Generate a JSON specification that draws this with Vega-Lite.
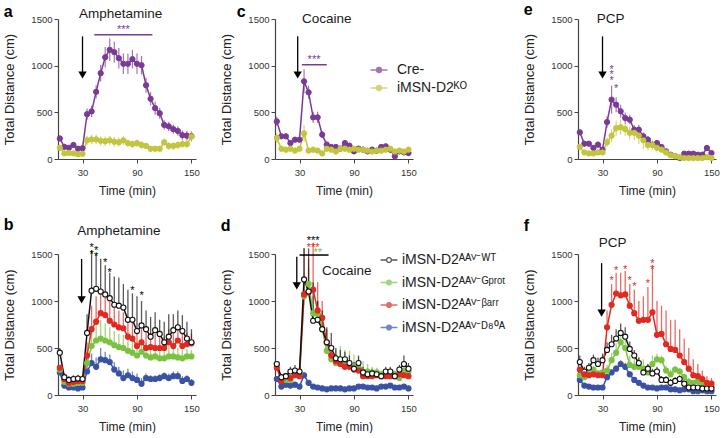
{
"$schema":"https://vega.github.io/schema/vega-lite/v6.json",
"padding":{"left":3,"top":2,"right":0,"bottom":0},
"config":{"font":"Liberation Sans","view":{"stroke":null},
"axis":{"grid":false,"domainColor":"#444","tickColor":"#444","labelColor":"#333","labelFontSize":9.5,"labelFont":"Liberation Sans","titleFont":"Liberation Sans","titleFontWeight":"normal","titleColor":"#222","tickSize":4,"labelPadding":2,"domainWidth":1.2},
"axisX":{"titleFontSize":12,"labelPadding":4,"titlePadding":9},
"axisY":{"titleFontSize":13,"titlePadding":14},
"title":{"fontSize":16,"fontWeight":"bold","anchor":"start","frame":"bounds","color":"#000","baseline":"alphabetic","font":"Liberation Sans"},
"legend":{"labelFontSize":14,"labelColor":"#222","labelFont":"Liberation Sans","padding":0}},
"datasets":{
"a":[{"t":5,"g":"Cre-","m":220,"e":30},{"t":10,"g":"Cre-","m":130,"e":25},{"t":15,"g":"Cre-","m":120,"e":25},{"t":20,"g":"Cre-","m":150,"e":25},{"t":25,"g":"Cre-","m":110,"e":25},{"t":30,"g":"Cre-","m":115,"e":25},{"t":35,"g":"Cre-","m":480,"e":60},{"t":40,"g":"Cre-","m":510,"e":60},{"t":45,"g":"Cre-","m":720,"e":70},{"t":50,"g":"Cre-","m":920,"e":90},{"t":55,"g":"Cre-","m":1090,"e":110},{"t":60,"g":"Cre-","m":1170,"e":120},{"t":65,"g":"Cre-","m":1145,"e":110},{"t":70,"g":"Cre-","m":1080,"e":110},{"t":75,"g":"Cre-","m":1020,"e":110},{"t":80,"g":"Cre-","m":1020,"e":110},{"t":85,"g":"Cre-","m":1070,"e":100},{"t":90,"g":"Cre-","m":1020,"e":110},{"t":95,"g":"Cre-","m":1005,"e":100},{"t":100,"g":"Cre-","m":790,"e":80},{"t":105,"g":"Cre-","m":645,"e":70},{"t":110,"g":"Cre-","m":545,"e":70},{"t":115,"g":"Cre-","m":490,"e":60},{"t":120,"g":"Cre-","m":365,"e":50},{"t":125,"g":"Cre-","m":350,"e":50},{"t":130,"g":"Cre-","m":320,"e":50},{"t":135,"g":"Cre-","m":300,"e":50},{"t":140,"g":"Cre-","m":255,"e":50},{"t":145,"g":"Cre-","m":250,"e":50},{"t":150,"g":"Cre-","m":245,"e":50},
{"t":5,"g":"KO","m":120,"e":30},{"t":10,"g":"KO","m":60,"e":20},{"t":15,"g":"KO","m":65,"e":20},{"t":20,"g":"KO","m":60,"e":20},{"t":25,"g":"KO","m":50,"e":20},{"t":30,"g":"KO","m":55,"e":20},{"t":35,"g":"KO","m":200,"e":50},{"t":40,"g":"KO","m":210,"e":50},{"t":45,"g":"KO","m":210,"e":50},{"t":50,"g":"KO","m":195,"e":50},{"t":55,"g":"KO","m":190,"e":50},{"t":60,"g":"KO","m":200,"e":50},{"t":65,"g":"KO","m":185,"e":50},{"t":70,"g":"KO","m":180,"e":50},{"t":75,"g":"KO","m":200,"e":50},{"t":80,"g":"KO","m":170,"e":40},{"t":85,"g":"KO","m":160,"e":40},{"t":90,"g":"KO","m":170,"e":40},{"t":95,"g":"KO","m":150,"e":40},{"t":100,"g":"KO","m":140,"e":30},{"t":105,"g":"KO","m":110,"e":30},{"t":110,"g":"KO","m":110,"e":30},{"t":115,"g":"KO","m":110,"e":30},{"t":120,"g":"KO","m":180,"e":40},{"t":125,"g":"KO","m":140,"e":40},{"t":130,"g":"KO","m":140,"e":40},{"t":135,"g":"KO","m":150,"e":40},{"t":140,"g":"KO","m":160,"e":40},{"t":145,"g":"KO","m":160,"e":40},{"t":150,"g":"KO","m":240,"e":60}],
"c":[{"t":5,"g":"Cre-","m":403,"e":50},{"t":10,"g":"Cre-","m":243,"e":30},{"t":15,"g":"Cre-","m":243,"e":30},{"t":20,"g":"Cre-","m":171,"e":30},{"t":25,"g":"Cre-","m":207,"e":30},{"t":30,"g":"Cre-","m":207,"e":30},{"t":35,"g":"Cre-","m":832,"e":130},{"t":40,"g":"Cre-","m":714,"e":70},{"t":45,"g":"Cre-","m":446,"e":60},{"t":50,"g":"Cre-","m":446,"e":60},{"t":55,"g":"Cre-","m":261,"e":40},{"t":60,"g":"Cre-","m":154,"e":30},{"t":65,"g":"Cre-","m":129,"e":30},{"t":70,"g":"Cre-","m":129,"e":30},{"t":75,"g":"Cre-","m":111,"e":30},{"t":80,"g":"Cre-","m":171,"e":30},{"t":85,"g":"Cre-","m":143,"e":30},{"t":90,"g":"Cre-","m":82,"e":30},{"t":95,"g":"Cre-","m":111,"e":30},{"t":100,"g":"Cre-","m":100,"e":30},{"t":105,"g":"Cre-","m":82,"e":30},{"t":110,"g":"Cre-","m":100,"e":30},{"t":115,"g":"Cre-","m":89,"e":30},{"t":120,"g":"Cre-","m":129,"e":30},{"t":125,"g":"Cre-","m":136,"e":30},{"t":130,"g":"Cre-","m":100,"e":30},{"t":135,"g":"Cre-","m":29,"e":40},{"t":140,"g":"Cre-","m":82,"e":30},{"t":145,"g":"Cre-","m":71,"e":30},{"t":150,"g":"Cre-","m":64,"e":30},
{"t":5,"g":"KO","m":225,"e":50},{"t":10,"g":"KO","m":110,"e":30},{"t":15,"g":"KO","m":100,"e":30},{"t":20,"g":"KO","m":110,"e":30},{"t":25,"g":"KO","m":90,"e":30},{"t":30,"g":"KO","m":110,"e":30},{"t":35,"g":"KO","m":275,"e":90},{"t":40,"g":"KO","m":90,"e":30},{"t":45,"g":"KO","m":100,"e":30},{"t":50,"g":"KO","m":90,"e":30},{"t":55,"g":"KO","m":60,"e":30},{"t":60,"g":"KO","m":110,"e":30},{"t":65,"g":"KO","m":100,"e":30},{"t":70,"g":"KO","m":80,"e":30},{"t":75,"g":"KO","m":110,"e":30},{"t":80,"g":"KO","m":110,"e":30},{"t":85,"g":"KO","m":100,"e":30},{"t":90,"g":"KO","m":110,"e":30},{"t":95,"g":"KO","m":100,"e":30},{"t":100,"g":"KO","m":100,"e":30},{"t":105,"g":"KO","m":90,"e":30},{"t":110,"g":"KO","m":80,"e":30},{"t":115,"g":"KO","m":90,"e":30},{"t":120,"g":"KO","m":90,"e":30},{"t":125,"g":"KO","m":100,"e":30},{"t":130,"g":"KO","m":110,"e":30},{"t":135,"g":"KO","m":80,"e":30},{"t":140,"g":"KO","m":90,"e":30},{"t":145,"g":"KO","m":80,"e":30},{"t":150,"g":"KO","m":100,"e":30}],
"e":[{"t":5,"g":"Cre-","m":286,"e":30},{"t":10,"g":"Cre-","m":164,"e":30},{"t":15,"g":"Cre-","m":164,"e":30},{"t":20,"g":"Cre-","m":118,"e":30},{"t":25,"g":"Cre-","m":154,"e":30},{"t":30,"g":"Cre-","m":100,"e":30},{"t":35,"g":"Cre-","m":396,"e":60},{"t":40,"g":"Cre-","m":636,"e":150},{"t":45,"g":"Cre-","m":582,"e":80},{"t":50,"g":"Cre-","m":511,"e":70},{"t":55,"g":"Cre-","m":439,"e":60},{"t":60,"g":"Cre-","m":421,"e":50},{"t":65,"g":"Cre-","m":314,"e":50},{"t":70,"g":"Cre-","m":314,"e":50},{"t":75,"g":"Cre-","m":243,"e":40},{"t":80,"g":"Cre-","m":207,"e":40},{"t":85,"g":"Cre-","m":154,"e":30},{"t":90,"g":"Cre-","m":171,"e":30},{"t":95,"g":"Cre-","m":129,"e":30},{"t":100,"g":"Cre-","m":82,"e":20},{"t":105,"g":"Cre-","m":46,"e":20},{"t":110,"g":"Cre-","m":29,"e":20},{"t":115,"g":"Cre-","m":11,"e":20},{"t":120,"g":"Cre-","m":57,"e":20},{"t":125,"g":"Cre-","m":57,"e":20},{"t":130,"g":"Cre-","m":57,"e":20},{"t":135,"g":"Cre-","m":46,"e":20},{"t":140,"g":"Cre-","m":46,"e":20},{"t":145,"g":"Cre-","m":118,"e":30},{"t":150,"g":"Cre-","m":64,"e":20},
{"t":5,"g":"KO","m":130,"e":20},{"t":10,"g":"KO","m":70,"e":15},{"t":15,"g":"KO","m":60,"e":15},{"t":20,"g":"KO","m":60,"e":15},{"t":25,"g":"KO","m":70,"e":15},{"t":30,"g":"KO","m":70,"e":15},{"t":35,"g":"KO","m":180,"e":50},{"t":40,"g":"KO","m":250,"e":70},{"t":45,"g":"KO","m":330,"e":80},{"t":50,"g":"KO","m":340,"e":80},{"t":55,"g":"KO","m":320,"e":70},{"t":60,"g":"KO","m":280,"e":70},{"t":65,"g":"KO","m":280,"e":80},{"t":70,"g":"KO","m":250,"e":90},{"t":75,"g":"KO","m":200,"e":90},{"t":80,"g":"KO","m":150,"e":60},{"t":85,"g":"KO","m":150,"e":50},{"t":90,"g":"KO","m":120,"e":40},{"t":95,"g":"KO","m":100,"e":30},{"t":100,"g":"KO","m":70,"e":20},{"t":105,"g":"KO","m":40,"e":20},{"t":110,"g":"KO","m":30,"e":15},{"t":115,"g":"KO","m":20,"e":15},{"t":120,"g":"KO","m":10,"e":10},{"t":125,"g":"KO","m":10,"e":10},{"t":130,"g":"KO","m":10,"e":10},{"t":135,"g":"KO","m":10,"e":10},{"t":140,"g":"KO","m":10,"e":10},{"t":145,"g":"KO","m":20,"e":10},{"t":150,"g":"KO","m":10,"e":10}],
"b":[{"t":5,"g":"D80A","m":240,"h":260},{"t":10,"g":"D80A","m":100,"h":120},{"t":15,"g":"D80A","m":80,"h":100},{"t":20,"g":"D80A","m":80,"h":100},{"t":25,"g":"D80A","m":70,"h":90},{"t":30,"g":"D80A","m":80,"h":100},{"t":35,"g":"D80A","m":250,"h":330},{"t":40,"g":"D80A","m":340,"h":440},{"t":45,"g":"D80A","m":300,"h":400},{"t":50,"g":"D80A","m":380,"h":500},{"t":55,"g":"D80A","m":370,"h":460},{"t":60,"g":"D80A","m":350,"h":430},{"t":65,"g":"D80A","m":270,"h":350},{"t":70,"g":"D80A","m":230,"h":300},{"t":75,"g":"D80A","m":180,"h":260},{"t":80,"g":"D80A","m":210,"h":280},{"t":85,"g":"D80A","m":180,"h":250},{"t":90,"g":"D80A","m":160,"h":230},{"t":95,"g":"D80A","m":120,"h":180},{"t":100,"g":"D80A","m":180,"h":230},{"t":105,"g":"D80A","m":170,"h":210},{"t":110,"g":"D80A","m":170,"h":210},{"t":115,"g":"D80A","m":180,"h":220},{"t":120,"g":"D80A","m":200,"h":240},{"t":125,"g":"D80A","m":180,"h":230},{"t":130,"g":"D80A","m":200,"h":250},{"t":135,"g":"D80A","m":200,"h":250},{"t":140,"g":"D80A","m":150,"h":200},{"t":145,"g":"D80A","m":170,"h":210},{"t":150,"g":"D80A","m":130,"h":170},
{"t":5,"g":"Gprot","m":270,"h":290},{"t":10,"g":"Gprot","m":140,"h":160},{"t":15,"g":"Gprot","m":120,"h":140},{"t":20,"g":"Gprot","m":120,"h":140},{"t":25,"g":"Gprot","m":130,"h":150},{"t":30,"g":"Gprot","m":130,"h":150},{"t":35,"g":"Gprot","m":340,"h":450},{"t":40,"g":"Gprot","m":520,"h":700},{"t":45,"g":"Gprot","m":580,"h":760},{"t":50,"g":"Gprot","m":600,"h":800},{"t":55,"g":"Gprot","m":580,"h":760},{"t":60,"g":"Gprot","m":560,"h":720},{"t":65,"g":"Gprot","m":530,"h":680},{"t":70,"g":"Gprot","m":510,"h":650},{"t":75,"g":"Gprot","m":500,"h":640},{"t":80,"g":"Gprot","m":470,"h":600},{"t":85,"g":"Gprot","m":450,"h":580},{"t":90,"g":"Gprot","m":420,"h":560},{"t":95,"g":"Gprot","m":460,"h":600},{"t":100,"g":"Gprot","m":420,"h":550},{"t":105,"g":"Gprot","m":400,"h":520},{"t":110,"g":"Gprot","m":410,"h":520},{"t":115,"g":"Gprot","m":390,"h":500},{"t":120,"g":"Gprot","m":390,"h":490},{"t":125,"g":"Gprot","m":410,"h":520},{"t":130,"g":"Gprot","m":410,"h":510},{"t":135,"g":"Gprot","m":400,"h":500},{"t":140,"g":"Gprot","m":390,"h":480},{"t":145,"g":"Gprot","m":410,"h":490},{"t":150,"g":"Gprot","m":410,"h":480},
{"t":5,"g":"barr","m":290,"h":320},{"t":10,"g":"barr","m":170,"h":190},{"t":15,"g":"barr","m":130,"h":150},{"t":20,"g":"barr","m":140,"h":160},{"t":25,"g":"barr","m":150,"h":170},{"t":30,"g":"barr","m":150,"h":170},{"t":35,"g":"barr","m":420,"h":560},{"t":40,"g":"barr","m":700,"h":950},{"t":45,"g":"barr","m":780,"h":1050},{"t":50,"g":"barr","m":870,"h":1100},{"t":55,"g":"barr","m":850,"h":1050},{"t":60,"g":"barr","m":790,"h":1000},{"t":65,"g":"barr","m":750,"h":950},{"t":70,"g":"barr","m":720,"h":900},{"t":75,"g":"barr","m":710,"h":880},{"t":80,"g":"barr","m":620,"h":800},{"t":85,"g":"barr","m":600,"h":780},{"t":90,"g":"barr","m":520,"h":700},{"t":95,"g":"barr","m":560,"h":740},{"t":100,"g":"barr","m":500,"h":680},{"t":105,"g":"barr","m":510,"h":660},{"t":110,"g":"barr","m":500,"h":650},{"t":115,"g":"barr","m":500,"h":640},{"t":120,"g":"barr","m":500,"h":620},{"t":125,"g":"barr","m":560,"h":700},{"t":130,"g":"barr","m":520,"h":680},{"t":135,"g":"barr","m":580,"h":760},{"t":140,"g":"barr","m":520,"h":680},{"t":145,"g":"barr","m":540,"h":660},{"t":150,"g":"barr","m":550,"h":650},
{"t":5,"g":"WT","m":450,"h":500},{"t":10,"g":"WT","m":190,"h":230},{"t":15,"g":"WT","m":160,"h":200},{"t":20,"g":"WT","m":170,"h":210},{"t":25,"g":"WT","m":175,"h":215},{"t":30,"g":"WT","m":170,"h":210},{"t":35,"g":"WT","m":660,"h":860},{"t":40,"g":"WT","m":1110,"h":1540},{"t":45,"g":"WT","m":1130,"h":1500},{"t":50,"g":"WT","m":1100,"h":1450},{"t":55,"g":"WT","m":1070,"h":1380},{"t":60,"g":"WT","m":1030,"h":1300},{"t":65,"g":"WT","m":960,"h":1260},{"t":70,"g":"WT","m":950,"h":1250},{"t":75,"g":"WT","m":930,"h":1180},{"t":80,"g":"WT","m":800,"h":1120},{"t":85,"g":"WT","m":800,"h":1080},{"t":90,"g":"WT","m":680,"h":1050},{"t":95,"g":"WT","m":740,"h":1000},{"t":100,"g":"WT","m":700,"h":900},{"t":105,"g":"WT","m":620,"h":830},{"t":110,"g":"WT","m":690,"h":880},{"t":115,"g":"WT","m":650,"h":800},{"t":120,"g":"WT","m":560,"h":780},{"t":125,"g":"WT","m":620,"h":860},{"t":130,"g":"WT","m":690,"h":860},{"t":135,"g":"WT","m":720,"h":900},{"t":140,"g":"WT","m":680,"h":850},{"t":145,"g":"WT","m":600,"h":780},{"t":150,"g":"WT","m":560,"h":700}],
"d":[{"t":5,"g":"D80A","m":170,"h":190},{"t":10,"g":"D80A","m":90,"h":110},{"t":15,"g":"D80A","m":110,"h":130},{"t":20,"g":"D80A","m":100,"h":120},{"t":25,"g":"D80A","m":110,"h":130},{"t":30,"g":"D80A","m":90,"h":110},{"t":35,"g":"D80A","m":210,"h":240},{"t":40,"g":"D80A","m":130,"h":150},{"t":45,"g":"D80A","m":90,"h":110},{"t":50,"g":"D80A","m":80,"h":95},{"t":55,"g":"D80A","m":70,"h":85},{"t":60,"g":"D80A","m":60,"h":75},{"t":65,"g":"D80A","m":70,"h":85},{"t":70,"g":"D80A","m":70,"h":85},{"t":75,"g":"D80A","m":70,"h":85},{"t":80,"g":"D80A","m":60,"h":75},{"t":85,"g":"D80A","m":70,"h":85},{"t":90,"g":"D80A","m":70,"h":85},{"t":95,"g":"D80A","m":90,"h":105},{"t":100,"g":"D80A","m":90,"h":105},{"t":105,"g":"D80A","m":80,"h":95},{"t":110,"g":"D80A","m":80,"h":95},{"t":115,"g":"D80A","m":70,"h":85},{"t":120,"g":"D80A","m":90,"h":105},{"t":125,"g":"D80A","m":90,"h":105},{"t":130,"g":"D80A","m":100,"h":115},{"t":135,"g":"D80A","m":80,"h":95},{"t":140,"g":"D80A","m":80,"h":95},{"t":145,"g":"D80A","m":90,"h":105},{"t":150,"g":"D80A","m":70,"h":85},
{"t":5,"g":"Gprot","m":330,"h":350},{"t":10,"g":"Gprot","m":180,"h":200},{"t":15,"g":"Gprot","m":160,"h":180},{"t":20,"g":"Gprot","m":160,"h":190},{"t":25,"g":"Gprot","m":240,"h":270},{"t":30,"g":"Gprot","m":220,"h":250},{"t":35,"g":"Gprot","m":1050,"h":1300},{"t":40,"g":"Gprot","m":1180,"h":1350},{"t":45,"g":"Gprot","m":870,"h":1050},{"t":50,"g":"Gprot","m":860,"h":1000},{"t":55,"g":"Gprot","m":700,"h":850},{"t":60,"g":"Gprot","m":470,"h":600},{"t":65,"g":"Gprot","m":380,"h":550},{"t":70,"g":"Gprot","m":340,"h":480},{"t":75,"g":"Gprot","m":360,"h":520},{"t":80,"g":"Gprot","m":330,"h":480},{"t":85,"g":"Gprot","m":320,"h":470},{"t":90,"g":"Gprot","m":300,"h":430},{"t":95,"g":"Gprot","m":280,"h":400},{"t":100,"g":"Gprot","m":250,"h":360},{"t":105,"g":"Gprot","m":250,"h":330},{"t":110,"g":"Gprot","m":240,"h":300},{"t":115,"g":"Gprot","m":240,"h":290},{"t":120,"g":"Gprot","m":220,"h":260},{"t":125,"g":"Gprot","m":220,"h":260},{"t":130,"g":"Gprot","m":230,"h":270},{"t":135,"g":"Gprot","m":220,"h":260},{"t":140,"g":"Gprot","m":180,"h":220},{"t":145,"g":"Gprot","m":260,"h":300},{"t":150,"g":"Gprot","m":250,"h":290},
{"t":5,"g":"barr","m":290,"h":310},{"t":10,"g":"barr","m":150,"h":170},{"t":15,"g":"barr","m":200,"h":220},{"t":20,"g":"barr","m":180,"h":200},{"t":25,"g":"barr","m":210,"h":230},{"t":30,"g":"barr","m":200,"h":230},{"t":35,"g":"barr","m":1070,"h":1560},{"t":40,"g":"barr","m":1090,"h":1450},{"t":45,"g":"barr","m":1120,"h":1620},{"t":50,"g":"barr","m":900,"h":1200},{"t":55,"g":"barr","m":820,"h":1000},{"t":60,"g":"barr","m":560,"h":700},{"t":65,"g":"barr","m":420,"h":520},{"t":70,"g":"barr","m":360,"h":430},{"t":75,"g":"barr","m":330,"h":400},{"t":80,"g":"barr","m":300,"h":360},{"t":85,"g":"barr","m":300,"h":360},{"t":90,"g":"barr","m":270,"h":320},{"t":95,"g":"barr","m":260,"h":310},{"t":100,"g":"barr","m":200,"h":240},{"t":105,"g":"barr","m":200,"h":240},{"t":110,"g":"barr","m":200,"h":240},{"t":115,"g":"barr","m":210,"h":250},{"t":120,"g":"barr","m":200,"h":240},{"t":125,"g":"barr","m":200,"h":240},{"t":130,"g":"barr","m":200,"h":240},{"t":135,"g":"barr","m":200,"h":240},{"t":140,"g":"barr","m":220,"h":260},{"t":145,"g":"barr","m":210,"h":250},{"t":150,"g":"barr","m":200,"h":240},
{"t":5,"g":"WT","m":330,"h":360},{"t":10,"g":"WT","m":190,"h":220},{"t":15,"g":"WT","m":200,"h":230},{"t":20,"g":"WT","m":250,"h":300},{"t":25,"g":"WT","m":260,"h":320},{"t":30,"g":"WT","m":250,"h":300},{"t":35,"g":"WT","m":1230,"h":1560},{"t":40,"g":"WT","m":1100,"h":1560},{"t":45,"g":"WT","m":790,"h":1200},{"t":50,"g":"WT","m":800,"h":1000},{"t":55,"g":"WT","m":700,"h":900},{"t":60,"g":"WT","m":560,"h":720},{"t":65,"g":"WT","m":500,"h":660},{"t":70,"g":"WT","m":390,"h":500},{"t":75,"g":"WT","m":380,"h":480},{"t":80,"g":"WT","m":380,"h":460},{"t":85,"g":"WT","m":340,"h":420},{"t":90,"g":"WT","m":280,"h":350},{"t":95,"g":"WT","m":340,"h":420},{"t":100,"g":"WT","m":240,"h":300},{"t":105,"g":"WT","m":220,"h":280},{"t":110,"g":"WT","m":230,"h":280},{"t":115,"g":"WT","m":220,"h":260},{"t":120,"g":"WT","m":200,"h":240},{"t":125,"g":"WT","m":250,"h":300},{"t":130,"g":"WT","m":250,"h":300},{"t":135,"g":"WT","m":200,"h":250},{"t":140,"g":"WT","m":270,"h":320},{"t":145,"g":"WT","m":330,"h":420},{"t":150,"g":"WT","m":280,"h":340}],
"f":[{"t":5,"g":"D80A","m":160,"h":180},{"t":10,"g":"D80A","m":100,"h":120},{"t":15,"g":"D80A","m":90,"h":110},{"t":20,"g":"D80A","m":80,"h":100},{"t":25,"g":"D80A","m":80,"h":100},{"t":30,"g":"D80A","m":80,"h":100},{"t":35,"g":"D80A","m":190,"h":220},{"t":40,"g":"D80A","m":240,"h":270},{"t":45,"g":"D80A","m":280,"h":320},{"t":50,"g":"D80A","m":330,"h":370},{"t":55,"g":"D80A","m":300,"h":340},{"t":60,"g":"D80A","m":220,"h":250},{"t":65,"g":"D80A","m":160,"h":190},{"t":70,"g":"D80A","m":130,"h":160},{"t":75,"g":"D80A","m":100,"h":120},{"t":80,"g":"D80A","m":80,"h":100},{"t":85,"g":"D80A","m":80,"h":100},{"t":90,"g":"D80A","m":70,"h":90},{"t":95,"g":"D80A","m":80,"h":100},{"t":100,"g":"D80A","m":80,"h":100},{"t":105,"g":"D80A","m":60,"h":80},{"t":110,"g":"D80A","m":60,"h":80},{"t":115,"g":"D80A","m":50,"h":70},{"t":120,"g":"D80A","m":60,"h":80},{"t":125,"g":"D80A","m":60,"h":80},{"t":130,"g":"D80A","m":40,"h":60},{"t":135,"g":"D80A","m":40,"h":60},{"t":140,"g":"D80A","m":50,"h":70},{"t":145,"g":"D80A","m":40,"h":60},{"t":150,"g":"D80A","m":40,"h":60},
{"t":5,"g":"Gprot","m":210,"h":240},{"t":10,"g":"Gprot","m":190,"h":220},{"t":15,"g":"Gprot","m":220,"h":250},{"t":20,"g":"Gprot","m":270,"h":300},{"t":25,"g":"Gprot","m":230,"h":260},{"t":30,"g":"Gprot","m":240,"h":270},{"t":35,"g":"Gprot","m":260,"h":320},{"t":40,"g":"Gprot","m":370,"h":450},{"t":45,"g":"Gprot","m":450,"h":550},{"t":50,"g":"Gprot","m":560,"h":650},{"t":55,"g":"Gprot","m":500,"h":600},{"t":60,"g":"Gprot","m":320,"h":420},{"t":65,"g":"Gprot","m":300,"h":400},{"t":70,"g":"Gprot","m":300,"h":400},{"t":75,"g":"Gprot","m":280,"h":380},{"t":80,"g":"Gprot","m":240,"h":330},{"t":85,"g":"Gprot","m":330,"h":420},{"t":90,"g":"Gprot","m":380,"h":440},{"t":95,"g":"Gprot","m":370,"h":420},{"t":100,"g":"Gprot","m":260,"h":310},{"t":105,"g":"Gprot","m":220,"h":270},{"t":110,"g":"Gprot","m":270,"h":310},{"t":115,"g":"Gprot","m":250,"h":290},{"t":120,"g":"Gprot","m":190,"h":230},{"t":125,"g":"Gprot","m":140,"h":180},{"t":130,"g":"Gprot","m":130,"h":160},{"t":135,"g":"Gprot","m":150,"h":180},{"t":140,"g":"Gprot","m":120,"h":150},{"t":145,"g":"Gprot","m":100,"h":130},{"t":150,"g":"Gprot","m":90,"h":120},
{"t":5,"g":"WT","m":350,"h":420},{"t":10,"g":"WT","m":250,"h":300},{"t":15,"g":"WT","m":290,"h":340},{"t":20,"g":"WT","m":370,"h":430},{"t":25,"g":"WT","m":330,"h":400},{"t":30,"g":"WT","m":370,"h":440},{"t":35,"g":"WT","m":480,"h":560},{"t":40,"g":"WT","m":540,"h":640},{"t":45,"g":"WT","m":600,"h":700},{"t":50,"g":"WT","m":660,"h":760},{"t":55,"g":"WT","m":620,"h":720},{"t":60,"g":"WT","m":490,"h":570},{"t":65,"g":"WT","m":420,"h":480},{"t":70,"g":"WT","m":340,"h":400},{"t":75,"g":"WT","m":240,"h":300},{"t":80,"g":"WT","m":280,"h":330},{"t":85,"g":"WT","m":230,"h":280},{"t":90,"g":"WT","m":250,"h":300},{"t":95,"g":"WT","m":160,"h":200},{"t":100,"g":"WT","m":160,"h":200},{"t":105,"g":"WT","m":130,"h":170},{"t":110,"g":"WT","m":150,"h":190},{"t":115,"g":"WT","m":170,"h":210},{"t":120,"g":"WT","m":120,"h":150},{"t":125,"g":"WT","m":80,"h":110},{"t":130,"g":"WT","m":80,"h":110},{"t":135,"g":"WT","m":80,"h":100},{"t":140,"g":"WT","m":70,"h":90},{"t":145,"g":"WT","m":70,"h":90},{"t":150,"g":"WT","m":70,"h":90},
{"t":5,"g":"barr","m":270,"h":300},{"t":10,"g":"barr","m":220,"h":250},{"t":15,"g":"barr","m":210,"h":240},{"t":20,"g":"barr","m":220,"h":250},{"t":25,"g":"barr","m":210,"h":240},{"t":30,"g":"barr","m":210,"h":240},{"t":35,"g":"barr","m":720,"h":900},{"t":40,"g":"barr","m":960,"h":1180},{"t":45,"g":"barr","m":1080,"h":1300},{"t":50,"g":"barr","m":1060,"h":1300},{"t":55,"g":"barr","m":1070,"h":1320},{"t":60,"g":"barr","m":950,"h":1180},{"t":65,"g":"barr","m":870,"h":1120},{"t":70,"g":"barr","m":790,"h":1000},{"t":75,"g":"barr","m":800,"h":1050},{"t":80,"g":"barr","m":800,"h":1150},{"t":85,"g":"barr","m":880,"h":1380},{"t":90,"g":"barr","m":640,"h":1000},{"t":95,"g":"barr","m":650,"h":950},{"t":100,"g":"barr","m":540,"h":900},{"t":105,"g":"barr","m":490,"h":800},{"t":110,"g":"barr","m":480,"h":800},{"t":115,"g":"barr","m":420,"h":700},{"t":120,"g":"barr","m":350,"h":600},{"t":125,"g":"barr","m":280,"h":500},{"t":130,"g":"barr","m":210,"h":380},{"t":135,"g":"barr","m":200,"h":330},{"t":140,"g":"barr","m":170,"h":260},{"t":145,"g":"barr","m":130,"h":200},{"t":150,"g":"barr","m":120,"h":180}],
"bs":[{"t":40,"y":1595},{"t":40,"y":1520},{"t":45,"y":1560},{"t":45,"y":1495},{"t":55,"y":1440},{"t":60,"y":1335},{"t":85,"y":1135},{"t":95,"y":1085}],
"es":[{"t":40,"y":990},{"t":40,"y":930},{"t":40,"y":870},{"t":45,"y":778}],
"fs":[{"t":40,"y":1240},{"t":45,"y":1356},{"t":55,"y":1367},{"t":60,"y":1240},{"t":65,"y":1180},{"t":80,"y":1216},{"t":85,"y":1421},{"t":85,"y":1360}]
},
"resolve":{"scale":{"fill":"independent","stroke":"independent"},"legend":{"fill":"independent","stroke":"independent"}},
"spacing":20,
"vconcat":[
{"spacing":56,"resolve":{"scale":{"fill":"independent","stroke":"independent"},"legend":{"fill":"independent","stroke":"independent"}},
"hconcat":[
{"spacing":20,"resolve":{"scale":{"fill":"independent","stroke":"independent"},"legend":{"fill":"independent","stroke":"independent"}},
"hconcat":[
{"width":138,"height":140,"title":{"text":"a","offset":-13},
"layer":[
{"data":{"name":"a"},"mark":{"type":"errorbar","thickness":1.2,"rule":{"opacity":0.7}},"encoding":{"x":{"field":"t","type":"quantitative","scale":{"domain":[3,155],"nice":false,"zero":false},"axis":{"values":[30,60,90,120,150]},"title":"Time (min)"},"y":{"field":"m","type":"quantitative","scale":{"domain":[0,1500],"nice":false},"axis":{"values":[0,500,1000,1500],"format":"d"},"title":"Total Distance (cm)"},"yError":{"field":"e"},"stroke":{"field":"g","type":"nominal","scale":{"domain":["Cre-","KO"],"range":["#7b3a96","#c2c53d"]},"legend":null}}},
{"data":{"name":"a"},"mark":{"type":"line","strokeWidth":1.5},"encoding":{"x":{"field":"t","type":"quantitative","title":"Time (min)"},"y":{"field":"m","type":"quantitative","title":"Total Distance (cm)"},"stroke":{"field":"g","type":"nominal","legend":null}}},
{"data":{"name":"a"},"mark":{"type":"point","shape":"circle","size":28,"strokeWidth":1,"opacity":1},"encoding":{"x":{"field":"t","type":"quantitative","title":"Time (min)"},"y":{"field":"m","type":"quantitative","title":"Total Distance (cm)"},"stroke":{"field":"g","type":"nominal","legend":null},"fill":{"field":"g","type":"nominal","scale":{"domain":["Cre-","KO"],"range":["#7b3a96","#c2c53d"]},"legend":null}}},
{"data":{"values":[{}]},"mark":{"type":"rule","color":"#000","strokeWidth":1.3},"encoding":{"x":{"datum":30},"y":{"datum":1314},"y2":{"datum":930}}},
{"data":{"values":[{}]},"mark":{"type":"point","shape":"triangle-down","filled":true,"color":"#000","size":70,"opacity":1},"encoding":{"x":{"datum":30},"y":{"datum":900}}},
{"data":{"values":[{}]},"mark":{"type":"rule","color":"#7b3a96","strokeWidth":1.5},"encoding":{"x":{"datum":43},"x2":{"datum":107},"y":{"datum":1332}}},
{"data":{"values":[{}]},"mark":{"type":"text","text":"***","color":"#7b3a96","fontSize":11,"baseline":"middle","dy":3},"encoding":{"x":{"datum":75},"y":{"datum":1410}}},
{"data":{"values":[{}]},"mark":{"type":"text","text":"Amphetamine","color":"#1a1a1a","fontSize":13.5,"baseline":"middle"},"encoding":{"x":{"datum":72},"y":{"datum":1550}}}
]},
{"width":138,"height":140,"title":{"text":"c","offset":-8.4,"dx":16},
"layer":[
{"data":{"name":"c"},"mark":{"type":"errorbar","thickness":1.2,"rule":{"opacity":0.7}},"encoding":{"x":{"field":"t","type":"quantitative","scale":{"domain":[3,155],"nice":false,"zero":false},"axis":{"values":[30,60,90,120,150]},"title":"Time (min)"},"y":{"field":"m","type":"quantitative","scale":{"domain":[0,1500],"nice":false},"axis":{"values":[0,500,1000,1500],"format":"d"},"title":"Total Distance (cm)"},"yError":{"field":"e"},"stroke":{"field":"g","type":"nominal","scale":{"domain":["Cre-","KO"],"range":["#7b3a96","#c2c53d"]},"legend":{"orient":"none","legendX":97,"legendY":44,"title":null,"symbolType":"M-2.8,0L2.8,0M0.8,0A0.8,0.8,0,1,1,-0.8,0A0.8,0.8,0,1,1,0.8,0Z","symbolSize":36,"symbolStrokeWidth":1.5,"labelFontSize":14,"labelOffset":11,"rowPadding":4,"labelExpr":"datum.label == 'KO' ? 'iMSN-D2ᴷᴼ' : datum.label"}}}},
{"data":{"name":"c"},"mark":{"type":"line","strokeWidth":1.5},"encoding":{"x":{"field":"t","type":"quantitative","title":"Time (min)"},"y":{"field":"m","type":"quantitative","title":"Total Distance (cm)"},"stroke":{"field":"g","type":"nominal"}}},
{"data":{"name":"c"},"mark":{"type":"point","shape":"circle","size":28,"strokeWidth":1,"opacity":1},"encoding":{"x":{"field":"t","type":"quantitative","title":"Time (min)"},"y":{"field":"m","type":"quantitative","title":"Total Distance (cm)"},"stroke":{"field":"g","type":"nominal"},"fill":{"field":"g","type":"nominal","scale":{"domain":["Cre-","KO"],"range":["#7b3a96","#c2c53d"]},"legend":{"orient":"none","legendX":97,"legendY":44,"title":null,"symbolType":"M-2.8,0L2.8,0M0.8,0A0.8,0.8,0,1,1,-0.8,0A0.8,0.8,0,1,1,0.8,0Z","symbolSize":36,"symbolStrokeWidth":1.5,"labelFontSize":14,"labelOffset":11,"rowPadding":4,"labelExpr":"datum.label == 'KO' ? 'iMSN-D2ᴷᴼ' : datum.label"}}}},
{"data":{"values":[{}]},"mark":{"type":"rule","color":"#000","strokeWidth":1.3},"encoding":{"x":{"datum":28},"y":{"datum":1314},"y2":{"datum":930}}},
{"data":{"values":[{}]},"mark":{"type":"point","shape":"triangle-down","filled":true,"color":"#000","size":70,"opacity":1},"encoding":{"x":{"datum":28},"y":{"datum":900}}},
{"data":{"values":[{}]},"mark":{"type":"rule","color":"#7b3a96","strokeWidth":1.5},"encoding":{"x":{"datum":32.6},"x2":{"datum":60},"y":{"datum":1010}}},
{"data":{"values":[{}]},"mark":{"type":"text","text":"***","color":"#7b3a96","fontSize":11,"baseline":"middle","dy":3},"encoding":{"x":{"datum":46},"y":{"datum":1088}}},
{"data":{"values":[{}]},"mark":{"type":"text","text":"Cocaine","color":"#1a1a1a","fontSize":13.5,"baseline":"middle"},"encoding":{"x":{"datum":60},"y":{"datum":1500}}}
]}
]},
{"width":138,"height":140,"title":{"text":"e","offset":-6.4},
"layer":[
{"data":{"name":"e"},"mark":{"type":"errorbar","thickness":1.2,"rule":{"opacity":0.7}},"encoding":{"x":{"field":"t","type":"quantitative","scale":{"domain":[3,155],"nice":false,"zero":false},"axis":{"values":[30,60,90,120,150]},"title":"Time (min)"},"y":{"field":"m","type":"quantitative","scale":{"domain":[0,1500],"nice":false},"axis":{"values":[0,500,1000,1500],"format":"d"},"title":"Total Distance (cm)"},"yError":{"field":"e"},"stroke":{"field":"g","type":"nominal","scale":{"domain":["Cre-","KO"],"range":["#7b3a96","#c2c53d"]},"legend":null}}},
{"data":{"name":"e"},"mark":{"type":"line","strokeWidth":1.5},"encoding":{"x":{"field":"t","type":"quantitative","title":"Time (min)"},"y":{"field":"m","type":"quantitative","title":"Total Distance (cm)"},"stroke":{"field":"g","type":"nominal","legend":null}}},
{"data":{"name":"e"},"mark":{"type":"point","shape":"circle","size":28,"strokeWidth":1,"opacity":1},"encoding":{"x":{"field":"t","type":"quantitative","title":"Time (min)"},"y":{"field":"m","type":"quantitative","title":"Total Distance (cm)"},"stroke":{"field":"g","type":"nominal","legend":null},"fill":{"field":"g","type":"nominal","scale":{"domain":["Cre-","KO"],"range":["#7b3a96","#c2c53d"]},"legend":null}}},
{"data":{"values":[{}]},"mark":{"type":"rule","color":"#000","strokeWidth":1.3},"encoding":{"x":{"datum":30},"y":{"datum":1314},"y2":{"datum":930}}},
{"data":{"values":[{}]},"mark":{"type":"point","shape":"triangle-down","filled":true,"color":"#000","size":70,"opacity":1},"encoding":{"x":{"datum":30},"y":{"datum":900}}},
{"data":{"name":"es"},"mark":{"type":"text","text":"*","color":"#7b3a96","fontSize":11,"baseline":"middle","dy":3},"encoding":{"x":{"field":"t","type":"quantitative"},"y":{"field":"y","type":"quantitative"}}},
{"data":{"values":[{}]},"mark":{"type":"text","text":"PCP","color":"#1a1a1a","fontSize":13.5,"baseline":"middle"},"encoding":{"x":{"datum":39},"y":{"datum":1500}}}
]}
]},
{"spacing":17,"resolve":{"scale":{"fill":"independent","stroke":"independent"},"legend":{"fill":"independent","stroke":"independent"}},
"hconcat":[
{"spacing":20,"resolve":{"scale":{"fill":"independent","stroke":"independent"},"legend":{"fill":"independent","stroke":"independent"}},
"hconcat":[
{"width":138,"height":141,"title":{"text":"b","offset":-9.5},
"layer":[
{"data":{"name":"b"},"mark":{"type":"rule","strokeWidth":1.3,"opacity":0.7},"encoding":{"x":{"field":"t","type":"quantitative","scale":{"domain":[3,155],"nice":false,"zero":false},"axis":{"values":[30,60,90,120,150]},"title":"Time (min)"},"y":{"field":"m","type":"quantitative","scale":{"domain":[0,1500],"nice":false},"axis":{"values":[0,500,1000,1500],"format":"d"},"title":"Total Distance (cm)"},"y2":{"field":"h"},"stroke":{"field":"g","type":"nominal","scale":{"domain":["WT","Gprot","barr","D80A"],"range":["#111111","#7cc242","#e02a22","#3a52a5"]},"legend":null}}},
{"data":{"name":"b"},"mark":{"type":"line","strokeWidth":1.5},"encoding":{"x":{"field":"t","type":"quantitative","title":"Time (min)"},"y":{"field":"m","type":"quantitative","title":"Total Distance (cm)"},"stroke":{"field":"g","type":"nominal","legend":null}}},
{"data":{"name":"b"},"mark":{"type":"point","shape":"circle","size":26,"strokeWidth":1.1,"opacity":1},"encoding":{"x":{"field":"t","type":"quantitative","title":"Time (min)"},"y":{"field":"m","type":"quantitative","title":"Total Distance (cm)"},"stroke":{"field":"g","type":"nominal","legend":null},"fill":{"field":"g","type":"nominal","scale":{"domain":["WT","Gprot","barr","D80A"],"range":["#ffffff","#7cc242","#e02a22","#3a52a5"]},"legend":null}}},
{"data":{"values":[{}]},"mark":{"type":"rule","color":"#000","strokeWidth":1.3},"encoding":{"x":{"datum":29},"y":{"datum":1447},"y2":{"datum":1040}}},
{"data":{"values":[{}]},"mark":{"type":"point","shape":"triangle-down","filled":true,"color":"#000","size":70,"opacity":1},"encoding":{"x":{"datum":29},"y":{"datum":1012}}},
{"data":{"name":"bs"},"mark":{"type":"text","text":"*","color":"#000","fontSize":11,"baseline":"middle","dy":3},"encoding":{"x":{"field":"t","type":"quantitative"},"y":{"field":"y","type":"quantitative"}}},
{"data":{"values":[{}]},"mark":{"type":"text","text":"Amphetamine","color":"#1a1a1a","fontSize":13.5,"baseline":"middle"},"encoding":{"x":{"datum":70},"y":{"datum":1746}}}
]},
{"width":138,"height":141,"title":{"text":"d","offset":0.5},
"layer":[
{"data":{"name":"d"},"mark":{"type":"rule","strokeWidth":1.3,"opacity":0.7},"encoding":{"x":{"field":"t","type":"quantitative","scale":{"domain":[3,155],"nice":false,"zero":false},"axis":{"values":[30,60,90,120,150]},"title":"Time (min)"},"y":{"field":"m","type":"quantitative","scale":{"domain":[0,1500],"nice":false},"axis":{"values":[0,500,1000,1500],"format":"d"},"title":"Total Distance (cm)"},"y2":{"field":"h"},"stroke":{"field":"g","type":"nominal","scale":{"domain":["WT","Gprot","barr","D80A"],"range":["#111111","#7cc242","#e02a22","#3a52a5"]},"legend":{"orient":"none","legendX":107,"legendY":-1,"title":null,"symbolType":"M-2.8,0L-0.8,0M0.8,0L2.8,0M0.8,0A0.8,0.8,0,1,1,-0.8,0A0.8,0.8,0,1,1,0.8,0Z","symbolSize":36,"symbolStrokeWidth":1.3,"labelFontSize":14,"labelOffset":6,"rowPadding":8.5,"labelExpr":"'iMSN-D2' + (datum.label == 'WT' ? 'ᴬᴬⱽ⁻ᵂᵀ' : datum.label == 'Gprot' ? 'ᴬᴬⱽ⁻ᴳᵖʳᵒᵗ' : datum.label == 'barr' ? 'ᴬᴬⱽ⁻ᵝᵃʳʳ' : 'ᴬᴬⱽ⁻ᴰ⁸⁰ᴬ')"}}}},
{"data":{"name":"d"},"mark":{"type":"line","strokeWidth":1.5},"encoding":{"x":{"field":"t","type":"quantitative","title":"Time (min)"},"y":{"field":"m","type":"quantitative","title":"Total Distance (cm)"},"stroke":{"field":"g","type":"nominal"}}},
{"data":{"name":"d"},"mark":{"type":"point","shape":"circle","size":26,"strokeWidth":1.1,"opacity":1},"encoding":{"x":{"field":"t","type":"quantitative","title":"Time (min)"},"y":{"field":"m","type":"quantitative","title":"Total Distance (cm)"},"stroke":{"field":"g","type":"nominal"},"fill":{"field":"g","type":"nominal","scale":{"domain":["WT","Gprot","barr","D80A"],"range":["#ffffff","#7cc242","#e02a22","#3a52a5"]},"legend":{"orient":"none","legendX":107,"legendY":-1,"title":null,"symbolType":"M-2.8,0L-0.8,0M0.8,0L2.8,0M0.8,0A0.8,0.8,0,1,1,-0.8,0A0.8,0.8,0,1,1,0.8,0Z","symbolSize":36,"symbolStrokeWidth":1.3,"labelFontSize":14,"labelOffset":6,"rowPadding":8.5,"labelExpr":"'iMSN-D2' + (datum.label == 'WT' ? 'ᴬᴬⱽ⁻ᵂᵀ' : datum.label == 'Gprot' ? 'ᴬᴬⱽ⁻ᴳᵖʳᵒᵗ' : datum.label == 'barr' ? 'ᴬᴬⱽ⁻ᵝᵃʳʳ' : 'ᴬᴬⱽ⁻ᴰ⁸⁰ᴬ')"}}}},
{"data":{"values":[{}]},"mark":{"type":"rule","color":"#000","strokeWidth":1.3},"encoding":{"x":{"datum":27},"y":{"datum":1471},"y2":{"datum":1180}}},
{"data":{"values":[{}]},"mark":{"type":"point","shape":"triangle-down","filled":true,"color":"#000","size":70,"opacity":1},"encoding":{"x":{"datum":27},"y":{"datum":1160}}},
{"data":{"values":[{}]},"mark":{"type":"rule","color":"#000","strokeWidth":1.5},"encoding":{"x":{"datum":30},"x2":{"datum":62},"y":{"datum":1489}}},
{"data":{"values":[{}]},"mark":{"type":"text","text":"***","color":"#000","fontSize":11,"baseline":"middle","dy":3},"encoding":{"x":{"datum":45},"y":{"datum":1674}}},
{"data":{"values":[{}]},"mark":{"type":"text","text":"***","color":"#e02a22","fontSize":11,"baseline":"middle","dy":3},"encoding":{"x":{"datum":45},"y":{"datum":1596}}},
{"data":{"values":[{}]},"mark":{"type":"text","text":"**","color":"#7cc242","fontSize":11,"baseline":"middle","dy":3},"encoding":{"x":{"datum":50},"y":{"datum":1542}}},
{"data":{"values":[{}]},"mark":{"type":"text","text":"Cocaine","color":"#1a1a1a","fontSize":13.5,"baseline":"middle"},"encoding":{"x":{"datum":82},"y":{"datum":1320}}}
]}
]},
{"width":138,"height":141,"title":{"text":"f","offset":1.4},
"layer":[
{"data":{"name":"f"},"mark":{"type":"rule","strokeWidth":1.3,"opacity":0.7},"encoding":{"x":{"field":"t","type":"quantitative","scale":{"domain":[3,155],"nice":false,"zero":false},"axis":{"values":[30,60,90,120,150]},"title":"Time (min)"},"y":{"field":"m","type":"quantitative","scale":{"domain":[0,1500],"nice":false},"axis":{"values":[0,500,1000,1500],"format":"d"},"title":"Total Distance (cm)"},"y2":{"field":"h"},"stroke":{"field":"g","type":"nominal","scale":{"domain":["WT","Gprot","barr","D80A"],"range":["#111111","#7cc242","#e02a22","#3a52a5"]},"legend":null}}},
{"data":{"name":"f"},"mark":{"type":"line","strokeWidth":1.5},"encoding":{"x":{"field":"t","type":"quantitative","title":"Time (min)"},"y":{"field":"m","type":"quantitative","title":"Total Distance (cm)"},"stroke":{"field":"g","type":"nominal","legend":null}}},
{"data":{"name":"f"},"mark":{"type":"point","shape":"circle","size":26,"strokeWidth":1.1,"opacity":1},"encoding":{"x":{"field":"t","type":"quantitative","title":"Time (min)"},"y":{"field":"m","type":"quantitative","title":"Total Distance (cm)"},"stroke":{"field":"g","type":"nominal","legend":null},"fill":{"field":"g","type":"nominal","scale":{"domain":["WT","Gprot","barr","D80A"],"range":["#ffffff","#7cc242","#e02a22","#3a52a5"]},"legend":null}}},
{"data":{"values":[{}]},"mark":{"type":"rule","color":"#000","strokeWidth":1.3},"encoding":{"x":{"datum":29},"y":{"datum":1403},"y2":{"datum":900}}},
{"data":{"values":[{}]},"mark":{"type":"point","shape":"triangle-down","filled":true,"color":"#000","size":70,"opacity":1},"encoding":{"x":{"datum":29},"y":{"datum":870}}},
{"data":{"name":"fs"},"mark":{"type":"text","text":"*","color":"#e02a22","fontSize":11,"baseline":"middle","dy":3},"encoding":{"x":{"field":"t","type":"quantitative"},"y":{"field":"y","type":"quantitative"}}},
{"data":{"values":[{}]},"mark":{"type":"text","text":"PCP","color":"#1a1a1a","fontSize":13.5,"baseline":"middle"},"encoding":{"x":{"datum":41},"y":{"datum":1620}}}
]}
]}
]
}
